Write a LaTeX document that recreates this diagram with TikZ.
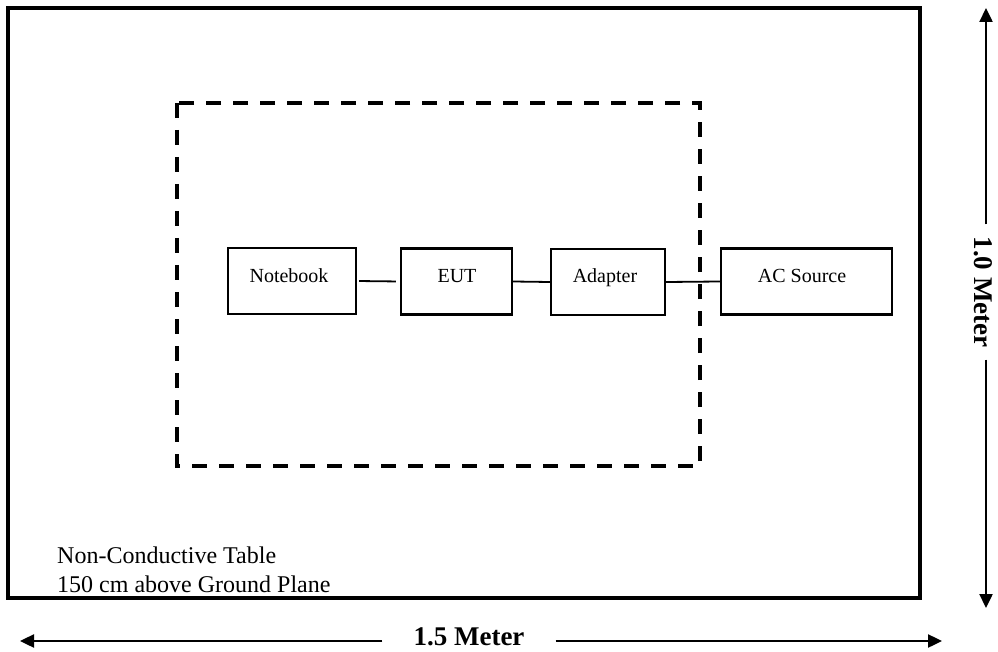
\documentclass[tikz,border=0pt]{standalone}
\usepackage{fontspec}
\setmainfont{Liberation Serif}
\usetikzlibrary{arrows.meta}
\begin{document}
\begin{tikzpicture}[x=1pt,y=-1pt,
  devbox/.style={draw,line width=2.4pt,minimum width=#1,minimum height=66pt,inner sep=0pt},
  devlabel/.style={font=\fontsize{20}{24}\selectfont,anchor=base},
  conn/.style={line width=1.8pt},
  dim/.style={line width=2.4pt,-{Triangle[length=14pt,width=13pt]}},
  dimlabel/.style={font=\bfseries\fontsize{27}{32}\selectfont}]
\useasboundingbox (0,0) rectangle (998,652);
% outer table
\draw[line width=4pt] (8,8) rectangle (920,598);
% dashed area
\draw[line width=3.5pt,dash pattern=on 15pt off 12pt] (177,103) rectangle (700,466);
% devices
\node[devbox=128pt] (nb) at (292,281) {};
\node[devbox=111pt] (eut) at (456.5,281.5) {};
\node[devbox=114pt] (ad) at (608,282) {};
\node[devbox=171pt] (ac) at (806.5,281.5) {};
\node[devlabel] at (289,283) {Notebook};
\node[devlabel] at (457,283) {EUT};
\node[devlabel] at (605,283) {Adapter};
\node[devlabel] at (802,283) {AC Source};
% connectors
\draw[conn,shorten <=2pt,shorten >=4pt] (nb.east) -- (eut.west);
\draw[conn] (eut.east) -- (ad.west);
\draw[conn] (ad.east) -- (ac.west);
% table text
\node[anchor=base west,font=\fontsize{24}{29}\selectfont,align=left,inner sep=0pt] (tt) at (57,592)
  {Non-Conductive Table\\150 cm above Ground Plane};
% width dimension
\node[dimlabel,inner xsep=31pt,inner ysep=0pt] (wl) at (469,637) {1.5 Meter};
\coordinate (wa) at (20,641);
\coordinate (wb) at (942,641);
\draw[dim] (wl.west |- wa) -- (wa);
\draw[dim] (wl.east |- wb) -- (wb);
% height dimension
\node[dimlabel,rotate=-90,inner xsep=12pt,inner ysep=0pt] (hl) at (983,292) {1.0 Meter};
\coordinate (ha) at (986,8);
\coordinate (hb) at (986,608);
\draw[dim] (ha |- hl.west) -- (ha);
\draw[dim] (hb |- hl.east) -- (hb);
\end{tikzpicture}
\end{document}
